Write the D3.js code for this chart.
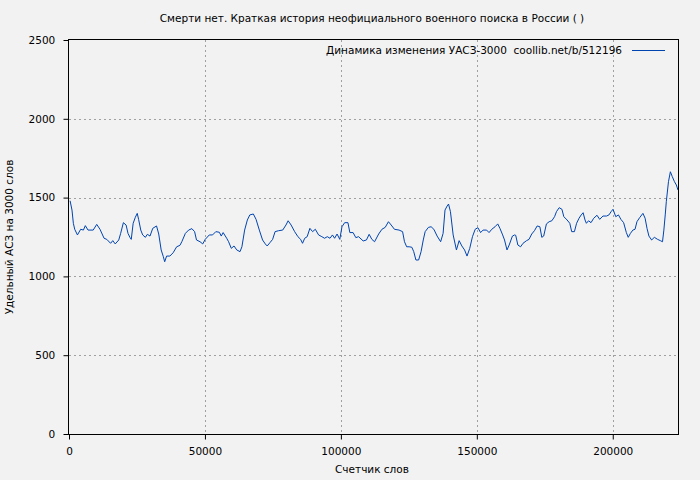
<!DOCTYPE html>
<html><head><meta charset="utf-8">
<script src="https://cdn.jsdelivr.net/npm/d3@7"></script>
<style>body{margin:0;background:#f2f2f2}svg{display:block}text{white-space:pre}</style>
</head><body><svg id="c" width="700" height="480"></svg>
<script>
const title = "Смерти нет. Краткая история неофициального военного поиска в России ( )";
const legendLabel = "Динамика изменения УАСЗ-3000  coollib.net/b/512196";
const xLabel = "Счетчик слов";
const yLabel = "Удельный АСЗ на 3000 слов";
const xTicks = [0, 50000, 100000, 150000, 200000];
const yTicks = [0, 500, 1000, 1500, 2000, 2500];
const words = [400,1100,1600,2100,3100,4300,5300,6000,7000,8900,10200,11400,12900,13900,15300,16100,17000,18300,19000,20000,21000,21700,22400,22900,23600,24400,25100,25600,26400,27100,28100,28800,29800,30800,32200,33000,33900,34700,35200,35900,37100,38300,39600,40800,41500,42800,44000,45200,46200,46900,48200,49200,50100,51600,
52800,54000,55300,56000,56700,58000,58700,59700,60700,61700,62900,63600,64600,65600,66500,67800,68800,70000,71200,72200,72900,73900,74900,75800,77100,78600,79800,80600,81700,83000,84200,85200,85900,86700,87600,88600,89600,90600,91800,93000,94000,95000,96000,96900,97700,98600,99600,100400,101400,102600,103300,104500,105500,106500,
108200,109400,110400,111400,112400,113900,115100,116300,117500,118500,119700,121400,122700,123400,124200,125100,126100,126800,127600,128600,129500,130300,131000,132200,133200,134200,135400,136700,137600,138300,139100,139600,140300,141300,142500,143500,144500,145500,146400,147400,148400,149400,150400,151400,152300,153600,154500,155500,156700,157700,158500,159500,160200,161100,161900,
163100,163900,164300,165100,166100,167000,168300,169200,170200,171200,172200,173200,173900,174600,175600,176600,177600,178600,179300,180300,181300,182000,183200,184200,184900,185900,186700,187600,188400,189100,189800,190300,191100,192000,193000,194200,195200,196400,197700,198600,199400,200100,201100,202100,203000,204000,205000,205700,206500,207400,208200,208900,209900,211100,211900,212600,213300,214300,215300,216500,217500,218300,218800,219300,219700,220500,221200,221900,222700,223400,224000];
const values = [1480,1421,1337,1299,1263,1299,1294,1322,1294,1294,1330,1299,1242,1235,1210,1227,1206,1231,1273,1341,1326,1273,1248,1235,1337,1375,1400,1362,1294,1263,1248,1267,1256,1305,1320,1269,1168,1125,1093,1129,1129,1150,1188,1197,1220,1273,1294,1303,1284,1231,1220,1206,1235,1263,
1263,1284,1280,1256,1278,1242,1220,1178,1193,1168,1157,1188,1294,1358,1390,1396,1362,1294,1231,1206,1193,1214,1235,1284,1290,1294,1326,1353,1326,1284,1252,1235,1210,1242,1252,1305,1284,1299,1263,1252,1242,1252,1242,1263,1242,1269,1235,1315,1341,1341,1278,1278,1246,1252,
1225,1231,1267,1235,1220,1269,1299,1311,1347,1326,1299,1294,1284,1220,1188,1188,1185,1157,1104,1104,1157,1231,1284,1311,1315,1299,1256,1220,1273,1421,1447,1459,1411,1263,1168,1227,1193,1168,1129,1178,1252,1299,1309,1278,1294,1294,1278,1299,1315,1333,1305,1263,1231,1168,1199,
1256,1263,1261,1199,1188,1210,1227,1235,1269,1290,1320,1315,1248,1256,1333,1347,1353,1379,1411,1436,1426,1379,1358,1337,1284,1284,1337,1369,1390,1404,1358,1337,1353,1341,1369,1388,1362,1383,1383,1390,1411,1426,1379,1390,1362,1341,1278,1248,1273,1294,1299,1347,1373,1400,1369,1305,1256,1231,1248,1235,1227,1220,1294,1390,1474,1601,1664,1633,1601,1580,1548];

const svg = d3.select("#c");
const font = "DejaVu Sans, sans-serif";
const fs = 10.5;
const m = {l:69, r:678, t:40, b:434};
const x = d3.scaleLinear().domain([0, 224000]).range([m.l, m.r]);
const y = d3.scaleLinear().domain([0, 2500]).range([m.b, m.t]);

svg.append("rect").attr("width",700).attr("height",480).attr("fill","#f2f2f2");

// grid
const g = svg.append("g").attr("stroke","#a0a0a0").attr("stroke-width",1).attr("stroke-dasharray","2,3");
xTicks.filter(t=>t>0).forEach(t=>g.append("line").attr("x1",Math.round(x(t))+0.5).attr("x2",Math.round(x(t))+0.5).attr("y1",m.t).attr("y2",m.b));
yTicks.filter(t=>t>0&&t<2500).forEach(t=>g.append("line").attr("x1",m.l).attr("x2",m.r).attr("y1",Math.round(y(t))+0.5).attr("y2",Math.round(y(t))+0.5));

// axes
const xa = svg.append("g").attr("transform",`translate(0,${m.b+0.5})`)
  .call(d3.axisBottom(x).tickValues(xTicks).tickFormat(d3.format("d")).tickSize(5).tickSizeOuter(0));
const ya = svg.append("g").attr("transform",`translate(${m.l-0.5},0)`)
  .call(d3.axisLeft(y).tickValues(yTicks).tickFormat(d3.format("d")).tickSize(5).tickSizeOuter(0));
[xa, ya].forEach(a=>{a.select(".domain").remove(); a.selectAll("text").attr("font-family",font).attr("font-size",fs).attr("fill","#000"); a.selectAll("line").attr("stroke","#000");});
xa.selectAll("text").attr("dy","1.15em");
ya.selectAll("text").attr("dx","-0.5em");

// line
svg.append("path").datum(words.map((w,i)=>[w,values[i]]))
  .attr("fill","none").attr("stroke","#0044b0").attr("stroke-width",1)
  .attr("d", d3.line().x(d=>x(d[0])).y(d=>y(d[1])));

// frame
svg.append("rect").attr("x",m.l-0.5).attr("y",m.t-0.5).attr("width",m.r-m.l+1).attr("height",m.b-m.t+1)
  .attr("fill","none").attr("stroke","#000").attr("stroke-width",1);

// texts
svg.append("text").attr("x",372).attr("y",22).attr("text-anchor","middle").attr("font-family",font).attr("font-size",fs).text(title);
svg.append("text").attr("x",622).attr("y",54).attr("text-anchor","end").attr("font-family",font).attr("font-size",fs).text(legendLabel);
svg.append("line").attr("x1",632).attr("x2",665).attr("y1",50.5).attr("y2",50.5).attr("stroke","#0044b0");
svg.append("text").attr("x",372).attr("y",473).attr("text-anchor","middle").attr("font-family",font).attr("font-size",fs).text(xLabel);
svg.append("text").attr("transform","translate(13,237) rotate(-90)").attr("text-anchor","middle").attr("font-family",font).attr("font-size",fs).text(yLabel);
</script></body></html>
